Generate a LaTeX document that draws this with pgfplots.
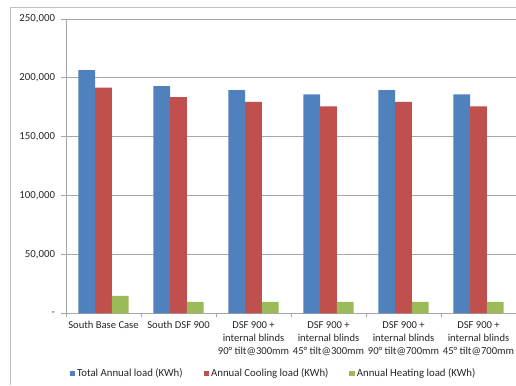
\documentclass[border=0pt]{standalone}
\usepackage{pgfplots}
\pgfplotsset{compat=1.18}
\usepackage{fontspec}
\setmainfont{Carlito}
\definecolor{xblue}{HTML}{4F81BD}
\definecolor{xred}{HTML}{C0504D}
\definecolor{xgreen}{HTML}{9BBB59}
\definecolor{gridc}{HTML}{A6A6A6}
\definecolor{framec}{HTML}{BFBFBF}
\begin{document}
\begin{tikzpicture}[x=1pt,y=1pt]
\useasboundingbox (0,0) rectangle (516,385);
\draw[framec, line width=1pt] (10,0) -- (10,377) -- (516,377);
\begin{axis}[
  at={(66pt,71.7pt)}, anchor=south west,
  scale only axis, width=450pt, height=294.3pt,
  xmin=-0.5, xmax=5.5, ymin=0, ymax=250000,
  ybar=0pt, bar width=16.7pt,
  axis x line=bottom, axis y line=left,
  axis line style={-, gridc, line width=0.8pt},
  ymajorgrids, grid style={gridc, line width=0.8pt},
  ytick={0,50000,100000,150000,200000,250000},
  yticklabels={{-},{50,000},{100,000},{150,000},{200,000},{250,000}},
  scaled y ticks=false,
  tick align=outside,
  ytick style={gridc, line width=0.8pt},
  major tick length=4.5pt,
  xtick={0,1,2,3,4,5},
  major x tick style={draw=none},
  minor xtick={-0.5,0.5,1.5,2.5,3.5,4.5,5.5},
  minor x tick style={gridc, line width=0.8pt},
  minor tick length=4pt,
  xticklabels={{South Base Case},{South DSF 900},{DSF 900 +\\internal blinds\\90° tilt@300mm},{DSF 900 +\\internal blinds\\45° tilt@300mm},{DSF 900 +\\internal blinds\\90° tilt@700mm},{DSF 900 +\\internal blinds\\45° tilt@700mm}},
  xticklabel style={align=center, font=\fontsize{10.6}{13.2}\selectfont, text=black!85, yshift=0pt},
  yticklabel style={font=\fontsize{10.8}{13}\selectfont, text=black!85, xshift=-3pt},
  legend style={at={(0.4611,-0.205)}, anchor=center, draw=none, font=\fontsize{10.8}{13}\selectfont, text=black!85, legend columns=3, /tikz/every even column/.append style={column sep=19pt}},
  legend image code/.code={\fill[#1] (0pt,-2.7pt) rectangle (5.4pt,2.7pt);},
  legend cell align=left,
]
\addplot[fill=xblue, draw=none] coordinates {(0,206600) (1,193000) (2,189500) (3,186000) (4,189500) (5,186000)};
\addplot[fill=xred, draw=none] coordinates {(0,191700) (1,183600) (2,179500) (3,175800) (4,179500) (5,175800)};
\addplot[fill=xgreen, draw=none] coordinates {(0,14700) (1,9800) (2,9800) (3,9800) (4,9800) (5,9800)};
\legend{Total Annual load (KWh),Annual Cooling load (KWh),Annual Heating load (KWh)}
\end{axis}
\end{tikzpicture}
\end{document}
